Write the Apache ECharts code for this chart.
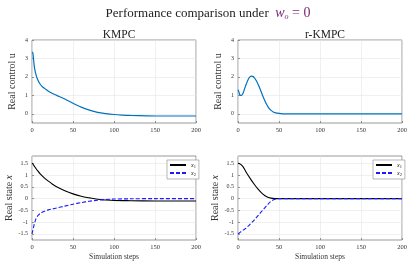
<!DOCTYPE html>
<html><head><meta charset="utf-8">
<script src="https://cdn.jsdelivr.net/npm/echarts@6/dist/echarts.min.js"></script>
<style>html,body{margin:0;padding:0;background:#fff}#c{width:416px;height:262px}</style>
</head><body><div id="c"></div>
<script>
// ---- data ----
const uKStep = [0,1,2,3,5,7,10,13,16,20,25,30,40,50,60,70,80,90,100,110,120,140,160,180,200];
const uKVal  = [3.35,3.3,2.9,2.5,2.1,1.85,1.6,1.45,1.35,1.22,1.1,1.0,0.8,0.57,0.36,0.2,0.08,0.01,-0.04,-0.07,-0.09,-0.11,-0.12,-0.12,-0.12];
const uRStep = [0,1,2,3,4,6,8,10,12,14,16,18,20,22,25,28,31,34,37,40,43,46,50,55,60,80,100,150,200];
const uRVal  = [1.3,1.2,1.05,1.0,1.0,1.1,1.35,1.6,1.82,1.97,2.04,2.03,1.95,1.82,1.55,1.22,0.88,0.58,0.35,0.2,0.1,0.05,0.02,0.0,-0.01,-0.01,-0.01,-0.01,-0.01];
const xKStep = [0,1,2,3,4,5,7,10,15,20,25,30,40,50,60,70,80,90,100,120,150,200];
const x1KVal = [1.5,1.47,1.42,1.37,1.32,1.27,1.18,1.05,0.88,0.74,0.61,0.5,0.33,0.2,0.1,0.03,-0.03,-0.06,-0.08,-0.09,-0.1,-0.1];
const x2KVal = [-1.5,-1.35,-1.2,-1.05,-0.95,-0.85,-0.73,-0.63,-0.54,-0.48,-0.44,-0.4,-0.32,-0.24,-0.17,-0.11,-0.07,-0.04,-0.02,-0.01,0.0,0.0];
const xRStep = [0,2,5,8,10,15,20,25,30,35,40,45,50,60,80,100,150,200];
const x1RVal = [1.5,1.48,1.4,1.25,1.12,0.85,0.6,0.38,0.2,0.08,0.02,0.0,0.0,0.0,0.0,0.0,0.0,0.0];
const x2RVal = [-1.5,-1.45,-1.37,-1.3,-1.25,-1.08,-0.9,-0.7,-0.5,-0.3,-0.12,-0.03,0.0,0.0,0.0,0.0,0.0,0.0];
const xTicks = [0,50,100,150,200];
const uTicks = [0,1,2,3,4];
const sTicks = [-1.5,-1,-0.5,0,0.5,1,1.5];
// ---- build ----
const zip = (a,b)=>a.map((v,i)=>[v,b[i]]);
const F = 'Liberation Serif';
const grids = [
  {left:32,top:40,width:164,height:83},
  {left:238,top:40,width:164,height:83},
  {left:32,top:156,width:164,height:84},
  {left:238,top:156,width:164,height:84}
].map(g=>Object.assign(g,{show:true,borderColor:'#555',borderWidth:0.6,backgroundColor:'#fff'}));
const tickFmt = v => (Math.round(v*10)/10).toString();
function xa(i, withName){
  return {type:'value',gridIndex:i,min:0,max:200,
    axisLine:{show:false,onZero:false},
    axisTick:{show:true,inside:true,length:2,customValues:xTicks,lineStyle:{color:'#555',width:0.6}},
    axisLabel:{customValues:xTicks,fontFamily:F,fontSize:6.5,color:'#333',margin:4},
    splitLine:{show:true,lineStyle:{color:'#e6e6e6',width:0.6}},
    name:withName?'Simulation steps':'',nameLocation:'middle',nameGap:13,
    nameTextStyle:{fontFamily:F,fontSize:7.5,color:'#333'}};
}
function ya(i, min, max, ticks, nameRich){
  return {type:'value',gridIndex:i,min:min,max:max,
    axisLine:{show:false,onZero:false},
    axisTick:{show:true,inside:true,length:2,customValues:ticks,lineStyle:{color:'#555',width:0.6}},
    axisLabel:{customValues:ticks,fontFamily:F,fontSize:6,color:'#333',margin:4,formatter:tickFmt},
    splitLine:{show:true,lineStyle:{color:'#e6e6e6',width:0.6}},
    name:nameRich,nameLocation:'middle',nameGap:15,
    nameTextStyle:{fontFamily:F,fontSize:10,color:'#333',
      rich:{i:{fontFamily:F,fontStyle:'italic',fontSize:10,color:'#333'}}}};
}
const legendCommon = {orient:'vertical',itemWidth:16,itemHeight:4,itemGap:1,
  padding:[2,3,2,2],backgroundColor:'#fff',borderColor:'#888',borderWidth:0.6,
  itemStyle:{opacity:0},
  formatter:n=>'{i|x}{s|'+n[1]+'}',
  textStyle:{fontFamily:F,fontSize:6,color:'#222',rich:{i:{fontFamily:F,fontStyle:'italic',fontSize:6},s:{fontFamily:F,fontSize:4.5,padding:[3,0,0,0]}}}};
const option = {
  animation:false,
  backgroundColor:'#fff',
  title:[
    {text:'Performance comparison under  {w|w}{o|o}{e| = 0}',left:'center',top:1,
      textStyle:{fontFamily:F,fontSize:13,fontWeight:'normal',color:'#222',
        rich:{w:{fontFamily:F,fontStyle:'italic',fontSize:14,color:'#7a2a78'},
              o:{fontFamily:F,fontStyle:'italic',fontSize:8,color:'#7a2a78',padding:[7,0,0,0]},
              e:{fontFamily:F,fontSize:14,color:'#7a2a78'}}}},
    {text:'KMPC',left:114,top:24,textAlign:'center',textStyle:{fontFamily:F,fontSize:11.5,fontWeight:'normal',color:'#222'}},
    {text:'r-KMPC',left:320,top:24,textAlign:'center',textStyle:{fontFamily:F,fontSize:11.5,fontWeight:'normal',color:'#222'}}
  ],
  legend:[
    Object.assign({data:['x1K','x2K'],left:167,top:160},legendCommon),
    Object.assign({data:['x1R','x2R'],left:373,top:160},legendCommon)
  ],
  grid:grids,
  xAxis:[xa(0,false),xa(1,false),xa(2,true),xa(3,true)],
  yAxis:[
    ya(0,-0.5,4,uTicks,'Real control u'),
    ya(1,-0.5,4,uTicks,'Real control u'),
    ya(2,-1.76,1.81,sTicks,'Real state {i|x}'),
    ya(3,-1.76,1.81,sTicks,'Real state {i|x}')
  ],
  series:[
    {type:'line',name:'uK',xAxisIndex:0,yAxisIndex:0,data:zip(uKStep,uKVal),smooth:0.3,symbol:'none',lineStyle:{color:'#0072BD',width:1.2}},
    {type:'line',name:'uR',xAxisIndex:1,yAxisIndex:1,data:zip(uRStep,uRVal),smooth:0.3,symbol:'none',lineStyle:{color:'#0072BD',width:1.2}},
    {type:'line',name:'x1K',xAxisIndex:2,yAxisIndex:2,data:zip(xKStep,x1KVal),smooth:0.3,symbol:'none',itemStyle:{color:'#000'},lineStyle:{color:'#000',width:1.1}},
    {type:'line',name:'x2K',xAxisIndex:2,yAxisIndex:2,data:zip(xKStep,x2KVal),smooth:0.3,symbol:'none',itemStyle:{color:'#1a1aff'},lineStyle:{color:'#1a1aff',width:1.1,type:[4,2]}},
    {type:'line',name:'x1R',xAxisIndex:3,yAxisIndex:3,data:zip(xRStep,x1RVal),smooth:0.3,symbol:'none',itemStyle:{color:'#000'},lineStyle:{color:'#000',width:1.1}},
    {type:'line',name:'x2R',xAxisIndex:3,yAxisIndex:3,data:zip(xRStep,x2RVal),smooth:0.3,symbol:'none',itemStyle:{color:'#1a1aff'},lineStyle:{color:'#1a1aff',width:1.1,type:[4,2]}}
  ]
};
const chart = echarts.init(document.getElementById('c'),null,{renderer:'canvas'});
chart.setOption(option);
</script></body></html>
